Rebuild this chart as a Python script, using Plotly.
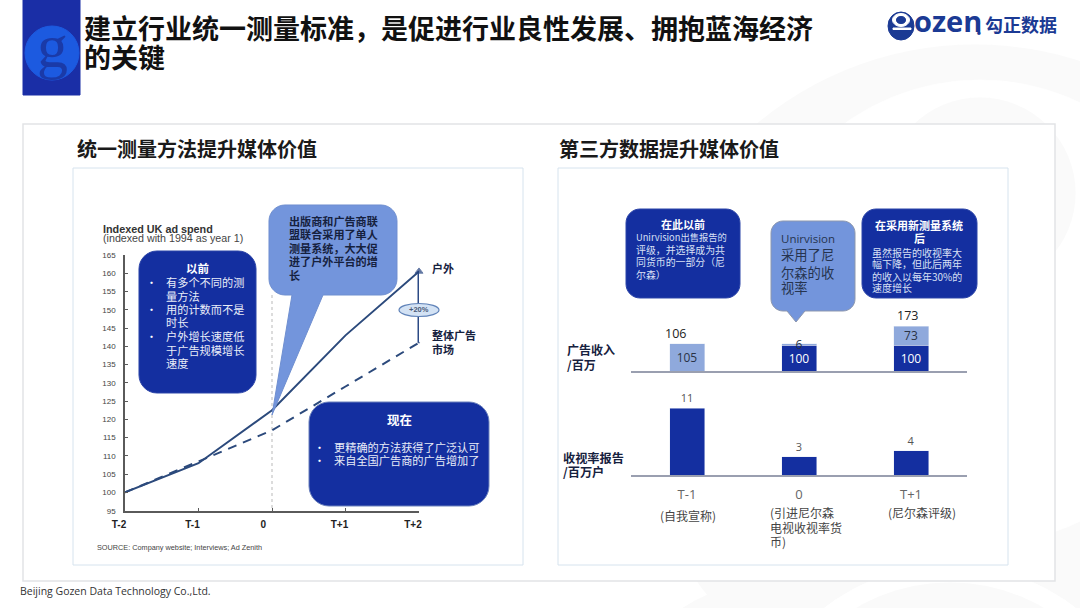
import plotly.graph_objects as go

W, H = 1080, 608

# ---------- data ----------
line_x = [0, 1, 2, 3, 4]
line_tick_labels = ["T-2", "T-1", "0\u00a0\u00a0", "T+1", "T+2"]
outdoor_values = [100, 108, 122.5, 143, 160.5]
market_values = [100, 108.5, 117, 129, 141]
index_ticks = list(range(95, 170, 5))

bar_categories = ["T-1", "0", "T+1"]
revenue_base = [0, 100, 100]
revenue_uplift = [105, 6, 73]
revenue_totals = [None, 106, 173]
ratings_values = [11, 3, 4]

DARK = "#142fa0"
MID = "#7395dc"
LIGHT = "#8fa9dc"
LINE = "#2c4a7c"
WASH = "#fafafa"
LOGO = "#1b3a94"
CJK = "Noto Sans CJK SC"
SANS = "Liberation Sans, " + CJK
OPEN = "Open Sans, " + CJK


def px(x):
    return x / W


def py(y):
    return 1 - y / H


def pt(x, y):
    return f"{px(x):.5f},{py(y):.5f}"


def rounded(x0, y0, x1, y1, r, tail=None):
    """Rounded box path, with an optional callout tail on the bottom edge."""
    k = r * 0.45
    p = [f"M{pt(x0 + r, y0)}", f"L{pt(x1 - r, y0)}",
         f"C{pt(x1 - k, y0)} {pt(x1, y0 + k)} {pt(x1, y0 + r)}",
         f"L{pt(x1, y1 - r)}",
         f"C{pt(x1, y1 - k)} {pt(x1 - k, y1)} {pt(x1 - r, y1)}"]
    if tail:
        a, tip, b = tail
        p += [f"L{pt(b, y1)}", f"L{pt(*tip)}", f"L{pt(a, y1)}"]
    p += [f"L{pt(x0 + r, y1)}",
          f"C{pt(x0 + k, y1)} {pt(x0, y1 - k)} {pt(x0, y1 - r)}",
          f"L{pt(x0, y0 + r)}",
          f"C{pt(x0, y0 + k)} {pt(x0 + k, y0)} {pt(x0 + r, y0)}", "Z"]
    return " ".join(p)


shapes, notes = [], []


def box(x0, y0, x1, y1, r, fill, line=None, tail=None):
    shapes.append(dict(type="path", xref="paper", yref="paper", layer="above",
                       path=rounded(x0, y0, x1, y1, r, tail), fillcolor=fill,
                       line=dict(color=line or fill, width=1)))


def rect(x0, y0, x1, y1, fill, line=None, width=1, layer="below"):
    shapes.append(dict(type="rect", xref="paper", yref="paper", layer=layer,
                       x0=px(x0), x1=px(x1), y0=py(y0), y1=py(y1), fillcolor=fill,
                       line=dict(color=line or fill, width=width)))


def oval(cx, cy, rx, ry, fill, line=None, width=1, layer="above"):
    shapes.append(dict(type="circle", xref="paper", yref="paper", layer=layer,
                       x0=px(cx - rx), x1=px(cx + rx), y0=py(cy - ry), y1=py(cy + ry),
                       fillcolor=fill, line=dict(color=line or fill, width=width)))


def txt(x, y, s, size, color="#222222", bold=False, anchor="left", family=CJK):
    notes.append(dict(xref="paper", yref="paper", x=px(x), y=py(y), showarrow=False,
                      text=f"<b>{s}</b>" if bold else s, xanchor=anchor, yanchor="middle",
                      borderpad=0, font=dict(size=size, color=color, family=family)))


# ---------- page furniture ----------
# faint watermark rings behind the panels
oval(975, 385, 340, 340, WASH, layer="below")
oval(980, 312, 232, 232, "#ffffff", layer="below")
oval(980, 193, 95, 95, WASH, layer="below")
oval(800, 800, 225, 225, WASH, layer="below")
oval(950, 770, 205, 205, "#ffffff", layer="below")
oval(950, 770, 187, 187, WASH, layer="below")

rect(23, 124, 1055, 581, "#ffffff", "#e2e4e6", 1.5)
rect(73, 168, 523, 565, "#ffffff", "#d6e3ee", 1)
rect(558, 168, 1008, 565, "#ffffff", "#d6e3ee", 1)

rect(23, 0, 80, 95, "#1a2ea6", layer="above")
oval(52, 53, 27, 27, "#1c5ae0")
txt(52, 46, "g", 62, "#1a3aa8", False, "center", "Liberation Serif")

# brand mark drawn from simple ovals
oval(901, 26, 13, 14, LOGO)
oval(901, 20, 8.5, 6.5, "#ffffff")
oval(901, 20, 4.5, 3.5, LOGO)
rect(893, 28, 911, 29.5, "#ffffff", layer="above")

txt(83, 27, "建立行业统一测量标准，是促进行业良性发展、拥抱蓝海经济", 27, "#111111", True)
txt(83, 56.5, "的关键", 27, "#111111", True)
txt(913, 20, "ozen", 29, LOGO, True, "left", "Open Sans")
txt(975, 27, ".", 20, LOGO, True, "left", "Open Sans")
txt(984, 24, "勾正数据", 18, LOGO, True)
txt(76, 149, "统一测量方法提升媒体价值", 20, "#1a1a1a", True)
txt(558, 149, "第三方数据提升媒体价值", 20, "#1a1a1a", True)
txt(19, 591, "Beijing Gozen Data Technology Co.,Ltd.", 10.5, "#333333", family="Open Sans")

# ---------- left chart text ----------
txt(102, 229, "Indexed UK ad spend", 10.8, "#333333", True, family=SANS)
txt(102, 238, "(indexed with 1994 as year 1)", 10.7, "#444444", family=SANS)
txt(96, 547, "SOURCE: Company website; Interviews; Ad Zenith", 7.3, "#444444", family=SANS)

shapes.append(dict(type="line", xref="paper", yref="paper", layer="below",
                   x0=px(272), x1=px(272), y0=py(295), y1=py(510),
                   line=dict(color="#b9b9b9", width=1, dash="dot")))

box(139, 251, 256, 393, 18, DARK, "#2b44a8")
txt(197, 268, "以前", 11.5, "#ffffff", True, "center")
before_lines = [(282, "有多个不同的测", True), (296, "量方法", False),
                (309, "用的计数而不是", True), (322, "时长", False),
                (336, "户外增长速度低", True), (350, "于广告规模增长", False), (363, "速度", False)]
for y, s, bullet in before_lines:
    if bullet:
        txt(151, y, "•", 11, "#ffffff", anchor="center")
    txt(165, y, s, 11.2, "#e9edf8")

box(269, 205, 397, 295, 16, MID, "#6f8fd0", tail=(292, (272, 415), 323))
for y, s in [(221, "出版商和广告商联"), (234, "盟联合采用了单人"), (248, "测量系统，大大促"),
             (261, "进了户外平台的增"), (275, "长")]:
    txt(288, y, s, 11.1, "#16213e", True)

txt(431, 268, "户外", 11, "#16213e", True)
txt(431, 335, "整体广告", 11, "#16213e", True)
txt(431, 349, "市场", 11, "#16213e", True)

oval(419, 310, 20, 6.5, "#d3e2f4", "#5f82b8", 1.2)
txt(419, 310, "<b>+20%</b>", 7.5, "#4a5a78", anchor="center", family=SANS)

box(309, 402, 489, 506, 20, DARK, "#6d83bd")
txt(399, 419, "现在", 12.5, "#ffffff", True, "center")
for y, s in [(447, "更精确的方法获得了广泛认可"), (460, "来自全国广告商的广告增加了")]:
    txt(319, y, "•", 11, "#ffffff", anchor="center")
    txt(333, y, s, 11.2, "#e9edf8")

# ---------- right chart text ----------
box(626, 209, 740, 298, 14, DARK, "#2b44a8")
txt(683, 224, "在此以前", 11, "#ffffff", True, "center")
txt(635, 237, "Unirvision出售报告的", 9.3, "#d9e0f5")
for y, s in [(250, "评级，并选择成为共"), (262, "同货币的一部分（尼"), (275, "尔森）")]:
    txt(635, y, s, 9.9, "#d9e0f5")

box(771, 221, 855, 311, 12, MID, "#8d97ad", tail=(787, (796, 322), 805))
txt(780, 238, "Unirvision", 11.5, "#26344f", family=OPEN)
for y, s in [(255, "采用了尼"), (272, "尔森的收"), (287, "视率")]:
    txt(780, y, s, 13.3, "#26344f")

box(862, 209, 977, 298, 14, DARK, "#2b44a8")
txt(919, 225, "在采用新测量系统", 11, "#ffffff", True, "center")
txt(919, 238, "后", 11, "#ffffff", True, "center")
for y, s in [(252, "虽然报告的收视率大"), (263, "幅下降，但此后两年"),
             (276, "的收入以每年30%的"), (288, "速度增长")]:
    txt(871, y, s, 10, "#d9e0f5")

txt(566, 349, "广告收入", 12, "#16213e", True)
txt(566, 364, "/百万", 12, "#16213e", True)
txt(562, 458, "收视率报告", 12.2, "#16213e", True)
txt(562, 472, "/百万户", 12.2, "#16213e", True)

txt(688, 515, "(自我宣称)", 12, "#444444", anchor="center")
txt(769, 512, "(引进尼尔森", 12, "#444444")
txt(769, 527, "电视收视率货", 12, "#444444")
txt(769, 541, "币)", 12, "#444444")
txt(922, 512, "(尼尔森评级)", 12, "#444444", anchor="center")

# totals above the stacked bars (read from the data)
for cat, total, dx in zip(bar_categories, revenue_totals, [0, -12, -4]):
    if total is not None:
        notes.append(dict(xref="x2", yref="y2", x=cat, y=total, showarrow=False, xanchor="center",
                          yanchor="bottom", xshift=dx, yshift=1, borderpad=0,
                          text=str(total), font=dict(size=12.5, color="#222222", family=OPEN)))

# ---------- traces ----------
fig = go.Figure()

fig.add_trace(go.Scatter(x=line_x, y=market_values, mode="lines", cliponaxis=False,
                         line=dict(color=LINE, width=2, dash="9px,7px"), showlegend=False))
fig.add_trace(go.Scatter(x=line_x, y=outdoor_values, mode="lines", cliponaxis=False,
                         line=dict(color=LINE, width=2), showlegend=False))
fig.add_trace(go.Scatter(x=[line_x[-1], line_x[-1]], y=[market_values[-1], outdoor_values[-1]],
                         mode="lines+markers", cliponaxis=False, showlegend=False,
                         line=dict(color="#2c4a85", width=3),
                         marker=dict(symbol=["circle", "triangle-up"], size=[1, 7], color="#1d3a78")))

fig.add_trace(go.Bar(x=bar_categories, y=revenue_base, xaxis="x2", yaxis="y2", marker_color=DARK,
                     text=[str(v) if v else "" for v in revenue_base], textposition="inside",
                     insidetextanchor="middle", constraintext="none", textangle=0,
                     textfont=dict(size=12, color="#ffffff", family="Open Sans"), showlegend=False))
fig.add_trace(go.Bar(x=bar_categories, y=revenue_uplift, xaxis="x2", yaxis="y2", marker_color=LIGHT,
                     text=[str(v) for v in revenue_uplift], textposition="inside",
                     insidetextanchor="middle", constraintext="none", textangle=0,
                     textfont=dict(size=12, color="#2a3345", family="Open Sans"), showlegend=False))
fig.add_trace(go.Bar(x=bar_categories, y=ratings_values, xaxis="x3", yaxis="y3", marker_color=DARK,
                     text=[str(v) for v in ratings_values], textposition="outside", cliponaxis=False,
                     constraintext="none", textangle=0,
                     textfont=dict(size=11, color="#555555", family="Open Sans"), showlegend=False))

axis_line = dict(showline=True, linecolor="#5a5a5a", linewidth=1.5, showgrid=False, zeroline=False)
bar_line = dict(showline=True, linecolor="#9a9fb0", linewidth=1.5, showgrid=False, zeroline=False)

fig.update_layout(
    width=W, height=H, margin=dict(l=0, r=0, t=0, b=0, autoexpand=False), autosize=False,
    paper_bgcolor="#ffffff", plot_bgcolor="rgba(0,0,0,0)", showlegend=False,
    barmode="stack", bargap=0.6875, shapes=shapes, annotations=notes,
    font=dict(family=SANS),
    xaxis=dict(domain=[px(125), px(419)], range=[0, 4], tickmode="array", tickvals=line_x,
               ticktext=line_tick_labels, ticks="inside", ticklen=3, tickcolor="#5a5a5a",
               ticklabelshift=-6, ticklabelstandoff=4,
               tickfont=dict(size=10, color="#222222", family=SANS, weight="bold"), **axis_line),
    yaxis=dict(domain=[py(510.7), py(255)], range=[95, 165], tickmode="array", tickvals=index_ticks,
               ticks="inside", ticklen=3, tickcolor="#5a5a5a", ticklabelstandoff=6,
               tickfont=dict(size=8, color="#444444", family=SANS), **axis_line),
    xaxis2=dict(domain=[px(631), px(967)], anchor="y2", type="category", showticklabels=False,
                ticks="", **bar_line),
    yaxis2=dict(domain=[py(371), py(301)], anchor="x2", range=[0, 272], visible=False),
    xaxis3=dict(domain=[px(631), px(967)], anchor="y3", type="category", ticks="",
                ticklabelstandoff=7,
                tickfont=dict(size=13, color="#666666", family="Open Sans"), **bar_line),
    yaxis3=dict(domain=[py(475), py(400)], anchor="x3", range=[0, 12.4], visible=False),
)

fig.write_html("out.html", config={"displayModeBar": False},
               post_script="document.body.style.margin='0';")
